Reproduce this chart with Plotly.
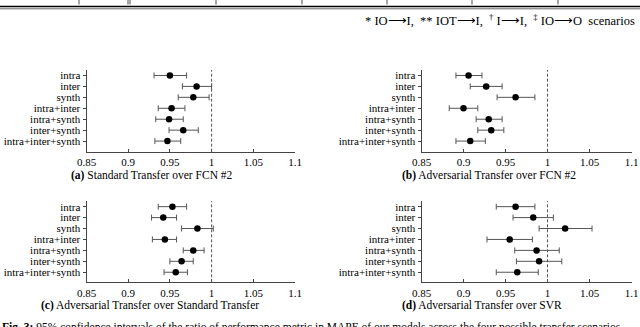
import plotly.graph_objects as go

categories = ["intra", "inter", "synth", "intra+inter", "intra+synth", "inter+synth", "intra+inter+synth"]

# (a) Standard Transfer over FCN #2
a_mean = [0.950, 0.982, 0.978, 0.952, 0.949, 0.966, 0.947]
a_low  = [0.931, 0.965, 0.960, 0.936, 0.933, 0.949, 0.932]
a_high = [0.970, 1.000, 0.997, 0.968, 0.966, 0.984, 0.963]

# (b) Adversarial Transfer over FCN #2
b_mean = [0.906, 0.927, 0.962, 0.900, 0.930, 0.933, 0.908]
b_low  = [0.891, 0.908, 0.940, 0.883, 0.915, 0.917, 0.891]
b_high = [0.922, 0.946, 0.985, 0.917, 0.946, 0.948, 0.926]

# (c) Adversarial Transfer over Standard Transfer
c_mean = [0.953, 0.942, 0.983, 0.944, 0.978, 0.964, 0.957]
c_low  = [0.936, 0.928, 0.964, 0.929, 0.966, 0.950, 0.943]
c_high = [0.970, 0.958, 1.002, 0.958, 0.991, 0.978, 0.971]

# (d) Adversarial Transfer over SVR
d_mean = [0.962, 0.983, 1.021, 0.955, 0.987, 0.990, 0.964]
d_low  = [0.939, 0.959, 0.990, 0.928, 0.961, 0.963, 0.939]
d_high = [0.985, 1.007, 1.053, 0.982, 1.014, 1.017, 0.989]

x_ticks = [0.85, 0.9, 0.95, 1, 1.05, 1.1]
x_ticklabels = ["0.85", "0.9", "0.95", "1", "1.05", "1.1"]

captions = [
    "<b>(a)</b> Standard Transfer over FCN #2",
    "<b>(b)</b> Adversarial Transfer over FCN #2",
    "<b>(c)</b> Adversarial Transfer over Standard Transfer",
    "<b>(d)</b> Adversarial Transfer over SVR",
]

W, H = 640, 327
def px(x): return x / W
def py(y): return 1 - y / H

panels = [
    (a_mean, a_low, a_high, (86.5, 295), (70, 151.7), 6.97),
    (b_mean, b_low, b_high, (421.5, 631.5), (70, 151.7), 6.97),
    (c_mean, c_low, c_high, (86.5, 295), (201.2, 282.3), 6.92),
    (d_mean, d_low, d_high, (421.5, 631.5), (201.2, 282.3), 6.92),
]

FONT = "Liberation Serif"
fig = go.Figure()
layout = {}
shapes = []
for i, (m, lo, hi, xd, yd, ybot) in enumerate(panels):
    n = "" if i == 0 else str(i + 1)
    fig.add_trace(go.Scatter(
        x=m, y=categories, mode="markers",
        marker=dict(color="black", size=6.5),
        error_x=dict(type="data", symmetric=False,
                     array=[h - v for h, v in zip(hi, m)],
                     arrayminus=[v - l for v, l in zip(m, lo)],
                     color="#555555", thickness=1, width=3),
        xaxis="x" + n, yaxis="y" + n, showlegend=False, cliponaxis=False,
    ))
    layout["xaxis" + n] = dict(
        domain=[px(xd[0]), px(xd[1])], anchor="y" + n, range=[0.85, 1.1],
        tickmode="array", tickvals=x_ticks, ticktext=x_ticklabels,
        showgrid=False, zeroline=False, automargin=False,
        showline=True, linecolor="#444444", linewidth=1, ticks="inside", ticklen=3,
        tickcolor="#444444", tickfont=dict(family=FONT, size=11, color="black"),
    )
    layout["yaxis" + n] = dict(
        domain=[py(yd[1]), py(yd[0])], anchor="x" + n, type="category",
        categoryorder="array", categoryarray=categories,
        tickmode="array", tickvals=categories, ticktext=categories,
        range=[ybot, -0.5], showgrid=False, zeroline=False, automargin=False,
        showline=True, linecolor="#444444", linewidth=1, ticks="outside", ticklen=3,
        tickcolor="#444444", tickfont=dict(family=FONT, size=11, color="black"),
    )
    shapes.append(dict(type="line", xref="x" + n, yref="y" + n + " domain",
                       x0=1, x1=1, y0=0, y1=1,
                       line=dict(color="#555555", width=1, dash="3px,2px")))

annotations = []
cap_pos = [(152, 176), (489, 176), (150, 305), (482, 305)]
for cap, (cx, cy) in zip(captions, cap_pos):
    annotations.append(dict(text=cap, x=px(cx), y=py(cy), xref="paper", yref="paper",
                            showarrow=False, xanchor="center", yanchor="middle",
                            font=dict(family=FONT, size=11.5, color="black")))

annotations.append(dict(
    text="*&nbsp;IO⟶I,&nbsp; **&nbsp;IOT⟶I,&nbsp; <sup>†</sup>&nbsp;I⟶I,&nbsp; <sup>‡</sup>&nbsp;IO⟶O&nbsp; scenarios",
    x=px(363), y=py(20), xref="paper", yref="paper", showarrow=False,
    xanchor="left", yanchor="middle", font=dict(family=FONT, size=12.5, color="black")))

annotations.append(dict(
    text="<b>Fig. 3:</b> 95% confidence intervals of the ratio of performance metric in MAPE of our models across the four possible transfer scenarios",
    x=px(0), y=py(327), xref="paper", yref="paper", showarrow=False,
    xanchor="left", yanchor="middle", font=dict(family=FONT, size=11.5, color="black")))

# table fragment rules at the top
shapes.append(dict(type="line", xref="paper", yref="paper", x0=0, x1=1,
                   y0=py(6.5), y1=py(6.5), line=dict(color="black", width=1.5)))
shapes.append(dict(type="line", xref="paper", yref="paper", x0=0, x1=1,
                   y0=py(8.8), y1=py(8.8), line=dict(color="black", width=0.6)))
for vx in [79, 128, 130, 216, 302, 387, 472, 558]:
    shapes.append(dict(type="line", xref="paper", yref="paper", x0=px(vx), x1=px(vx),
                       y0=py(0), y1=py(4.5), line=dict(color="black", width=0.7)))

fig.update_layout(
    width=W, height=H, margin=dict(l=0, r=0, t=0, b=0),
    paper_bgcolor="white", plot_bgcolor="white",
    shapes=shapes, annotations=annotations, **layout,
)
fig.write_html("out.html", config={"displayModeBar": False},
               post_script="document.body.style.margin='0';document.body.style.overflow='hidden';")
